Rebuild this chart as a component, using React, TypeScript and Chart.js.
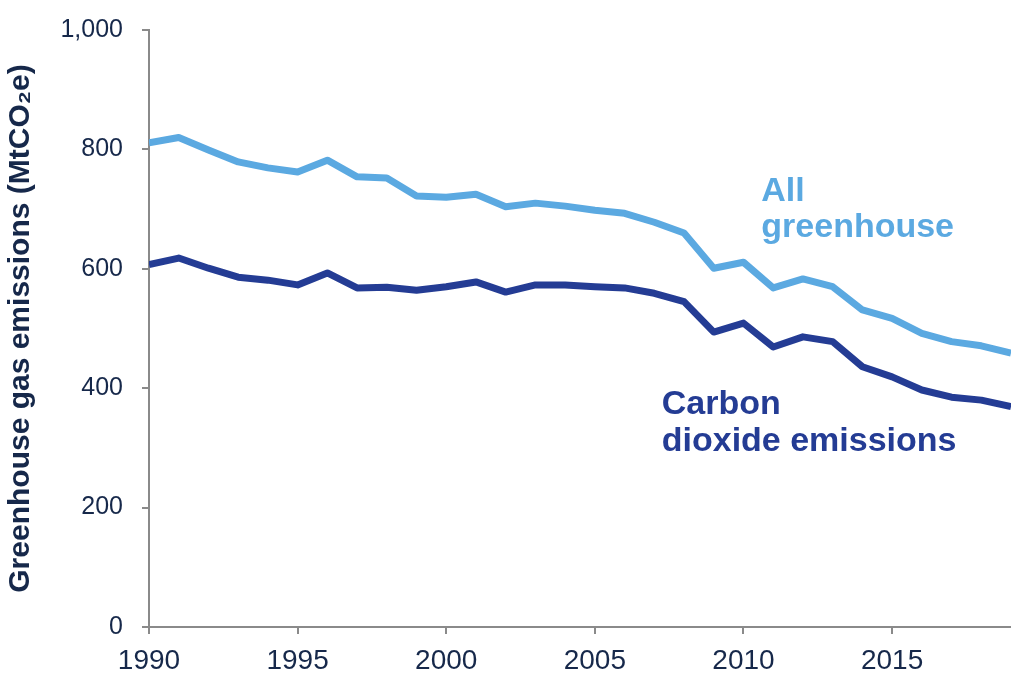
import React, { useEffect, useRef } from "react";
import { Chart, registerables } from "chart.js";

Chart.register(...registerables);

const years = [
  1990, 1991, 1992, 1993, 1994, 1995, 1996, 1997, 1998, 1999,
  2000, 2001, 2002, 2003, 2004, 2005, 2006, 2007, 2008, 2009,
  2010, 2011, 2012, 2013, 2014, 2015, 2016, 2017, 2018, 2019,
];

const allGreenhouse = [
  811, 820, 799, 779, 769, 762, 782, 754, 752, 722,
  720, 725, 704, 710, 705, 698, 693, 678, 660, 601,
  611, 568, 583, 570, 531, 517, 492, 478, 471, 459,
];

const carbonDioxide = [
  607, 618, 601, 586, 581, 573, 593, 568, 569, 564,
  570, 578, 561, 573, 573, 570, 568, 559, 545, 494,
  509, 469, 486, 478, 436, 419, 397, 385, 380, 369,
];

const yTicks = [0, 200, 400, 600, 800, 1000];
const xTicks = [1990, 1995, 2000, 2005, 2010, 2015];

const LIGHT = "#5BA9E1";
const DARK = "#243C94";
const TICK_COLOR = "#16284A";
const AXIS_COLOR = "#8A8A8A";
const FONT = "'Liberation Sans', Arial, sans-serif";

const labelsPlugin = {
  id: "seriesLabels",
  afterDatasetsDraw(chart: any) {
    const { ctx, scales } = chart;
    const xs = scales.x;
    const ys = scales.y;
    const items = [
      { text: "All", x: 2010.6, y: 713, color: LIGHT },
      { text: "greenhouse", x: 2010.6, y: 653, color: LIGHT },
      { text: "Carbon", x: 2007.25, y: 356, color: DARK },
      { text: "dioxide emissions", x: 2007.25, y: 294, color: DARK },
    ];
    ctx.save();
    ctx.font = `bold 34px ${FONT}`;
    ctx.textAlign = "left";
    ctx.textBaseline = "alphabetic";
    for (const it of items) {
      ctx.fillStyle = it.color;
      ctx.fillText(it.text, xs.getPixelForValue(it.x), ys.getPixelForValue(it.y));
    }
    ctx.restore();
  },
};

export default function App() {
  const ref = useRef<HTMLCanvasElement | null>(null);

  useEffect(() => {
    if (!ref.current) return;
    const chart = new Chart(ref.current, {
      type: "line",
      data: {
        datasets: [
          {
            label: "All greenhouse",
            data: years.map((y, i) => ({ x: y, y: allGreenhouse[i] })),
            borderColor: LIGHT,
            borderWidth: 7,
            pointRadius: 0,
            tension: 0,
            borderJoinStyle: "round",
          },
          {
            label: "Carbon dioxide emissions",
            data: years.map((y, i) => ({ x: y, y: carbonDioxide[i] })),
            borderColor: DARK,
            borderWidth: 7,
            pointRadius: 0,
            tension: 0,
            borderJoinStyle: "round",
          },
        ],
      },
      options: {
        animation: false,
        responsive: false,
        devicePixelRatio: 1,
        layout: { padding: { top: 30, right: 0, left: 0, bottom: 0 } },
        plugins: {
          legend: { display: false },
          tooltip: { enabled: false },
        },
        scales: {
          x: {
            type: "linear",
            min: 1990,
            max: 2019,
            afterBuildTicks: (scale: any) => {
              scale.ticks = xTicks.map((v) => ({ value: v }));
            },
            afterFit: (scale: any) => {
              scale.height = 48;
              scale.paddingLeft = 0;
              scale.paddingRight = 0;
            },
            ticks: {
              color: TICK_COLOR,
              font: { family: FONT, size: 28 },
              padding: 10,
              maxRotation: 0,
              callback: (v: any) => String(v),
            },
            grid: {
              display: true,
              drawOnChartArea: false,
              drawTicks: true,
              tickLength: 7,
              color: AXIS_COLOR,
              lineWidth: 2,
            },
            border: { display: true, color: AXIS_COLOR, width: 2 },
          },
          y: {
            min: 0,
            max: 1000,
            afterBuildTicks: (scale: any) => {
              scale.ticks = yTicks.map((v) => ({ value: v }));
            },
            afterFit: (scale: any) => {
              scale.width = 149;
              scale.paddingTop = 0;
              scale.paddingBottom = 0;
            },
            ticks: {
              color: TICK_COLOR,
              font: { family: FONT, size: 25 },
              padding: 19,
              callback: (v: any) => Number(v).toLocaleString("en-US"),
            },
            grid: {
              display: true,
              drawOnChartArea: false,
              drawTicks: true,
              tickLength: 7,
              color: AXIS_COLOR,
              lineWidth: 2,
            },
            border: { display: true, color: AXIS_COLOR, width: 2 },
            title: {
              display: true,
              text: "Greenhouse gas emissions (MtCO₂e)",
              color: TICK_COLOR,
              font: { family: FONT, size: 30, weight: "bold" },
              padding: { top: 3, bottom: 0 },
            },
          },
        },
      },
      plugins: [labelsPlugin],
    });
    return () => chart.destroy();
  }, []);

  return (
    <div style={{ position: "fixed", left: 0, top: 0, width: 1011, height: 675, background: "#fff" }}>
      <canvas ref={ref} width={1011} height={675} style={{ width: 1011, height: 675, display: "block" }} />
    </div>
  );
}
